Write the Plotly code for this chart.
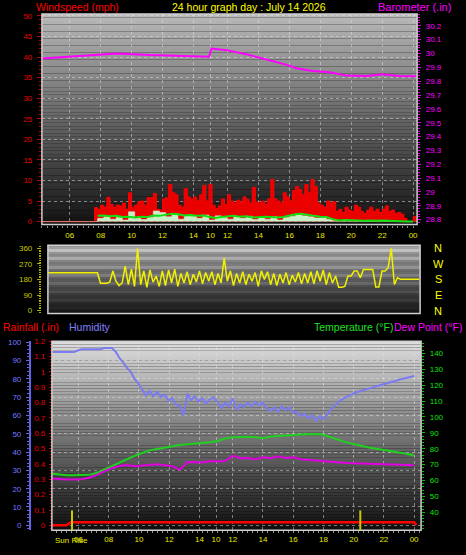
import numpy as np
import plotly.graph_objects as go

W, H = 466, 555
FONT = "Liberation Sans, Arial, sans-serif"

# ---------------- data ----------------
tick_hours = [1.8, 3.8, 5.8, 7.8, 9.8, 10.9, 12, 14, 16, 18, 20, 22, 24]
tick_labels = ['06', '08', '10', '12', '14', '10', '12', '14', '16', '18', '20', '22', '00']

gust_step = 0.2
wind_gust = [0, 0, 0, 0, 0, 0, 0, 0, 0, 0, 0, 0, 0, 0, 0, 0, 0,
             3.4, 3.0, 4.0, 3.5, 5.9, 4.2, 3.5, 4.0, 3.8, 4.5, 3.0, 7.0, 3.5, 4.0, 4.8, 5.0,
             4.0, 5.8, 5.8, 6.8, 3.0, 2.8, 5.5, 5.8, 9.0, 7.0, 6.5, 4.0, 3.5, 8.0, 6.0, 5.5,
             6.0, 5.0, 6.5, 8.8, 5.0, 9.0, 4.0, 3.2, 3.8, 5.5, 4.2, 6.5, 5.0, 4.5, 5.2, 4.8,
             6.0, 5.4, 4.5, 8.3, 4.8, 4.5, 5.0, 4.2, 5.5, 10.2, 5.5, 5.0, 4.5, 7.0, 6.0, 5.0,
             7.5, 8.5, 7.8, 6.5, 9.0, 7.0, 10.2, 8.5, 4.5, 4.0, 3.5, 5.0, 4.5, 4.8, 2.5, 3.0,
             2.2, 3.5, 2.8, 2.5, 4.0, 3.5, 2.5, 2.0, 2.8, 3.5, 2.5, 3.0, 2.2, 3.0, 3.8, 2.5,
             2.8, 2.0, 2.2, 1.8, 0.8, 0.0, 0.0, 1.2, 0.0]

avg_step = 0.4
wind_avg = [None, None, None, None, None, None, None, None, None,
            1.4, 1.5, 1.3, 1.4, 1.1, 1.2, 1.0, 1.2, 1.1, 1.5, 1.4, 1.7, 1.9, 1.8, 1.5, 1.6,
            1.4, 1.5, 1.2, 0.9, 1.1, 1.3, 1.4, 1.2, 1.3, 1.0, 1.1, 1.2, 1.1, 1.0, 1.1, 1.4,
            1.8, 1.9, 1.6, 1.4, 1.2, 1.1, 0.6, 0.3, 0.4, 0.3, 0.3, 0.2, 0.3, 0.2, 0.3, 0.2,
            0.2, 0.1, 0.0, 0.0]
wind_speed = [0, 0, 0, 0, 0, 0, 0, 0, 0,
              0.8, 1.2, 0.6, 1.0, 0.4, 2.4, 0.8, 0.5, 1.0, 2.6, 2.2, 1.2, 1.8, 0.6, 1.5, 1.3,
              0.8, 1.6, 0.4, 1.4, 1.0, 0.6, 1.2, 0.8, 1.3, 0.5, 0.9, 0.6, 1.2, 0.4, 1.0, 1.3,
              1.6, 1.4, 1.2, 0.9, 1.0, 0.6, 0.3, 0.0, 0.3, 0.0, 0.2, 0.0, 0.2, 0.0, 0.2, 0.0,
              0.0, 0.0, 0.0, 0.0]

baro_hours = [0.0, 2.0, 4.84, 6.97, 8.9, 10.8, 10.97, 11.94, 13.2, 14.5, 15.9, 16.45,
              17.5, 18.6, 19.7, 20.97, 22.0, 23.1, 24.2]
baro_inhg = [29.964, 29.98, 30.0, 29.988, 29.98, 29.976, 30.036, 30.024, 29.995, 29.957,
             29.916, 29.893, 29.874, 29.864, 29.84, 29.838, 29.85, 29.838, 29.836]

dir_step = 0.2
wind_dir = [219, 219, 219, 219, 219, 219, 219, 219, 219, 219, 219, 219, 219, 219, 219, 219, 219,
            158, 158, 158, 165, 229, 170, 145, 160, 257, 150, 240, 140, 360, 150, 230, 135,
            235, 165, 200, 140, 230, 145, 235, 160, 240, 140, 215, 160, 225, 150, 210, 165,
            230, 155, 220, 170, 225, 150, 215, 160, 305, 170, 230, 145, 215, 160, 225, 150,
            210, 170, 220, 140, 230, 180, 225, 150, 215, 145, 210, 160, 220, 150, 205, 165,
            220, 155, 215, 160, 225, 155, 230, 170, 235, 150, 220, 160, 200, 135, 135, 140,
            200, 200, 229, 229, 190, 238, 238, 238, 238, 137, 137, 229, 229, 248, 360, 152,
            190, 181, 181, 181, 181, 181, 181, 181]

hum_step = 0.25
humidity = [94.6, 94.6, 94.6, 94.6, 94.6, 94.6, 94.6, 95.5, 96.2, 96.2, 96.2, 96.2, 96.2,
            96.2, 96.8, 96.8, 96.8, 95.0, 91.5, 89.0, 86.0, 84.0, 80.0, 77.5, 74.5, 71.0,
            73.5, 70.5, 73.0, 70.0, 71.5, 68.0, 69.5, 66.0, 65.0, 60.0, 72.0, 68.5, 70.5,
            67.5, 69.5, 66.5, 69.0, 70.0, 67.0, 64.0, 67.0, 65.0, 69.5, 63.0, 66.0, 64.5,
            67.0, 65.0, 67.5, 65.5, 67.0, 64.0, 62.5, 64.5, 62.0, 65.0, 63.0, 64.5, 61.5,
            62.0, 59.5, 61.0, 58.5, 60.0, 57.0, 59.5, 58.0, 61.0, 63.5, 65.5, 67.5, 69.0,
            70.0, 71.0, 72.0, 72.8, 73.5, 74.0, 74.5, 75.2, 76.0, 76.5, 77.0, 77.6, 78.2,
            78.8, 79.5, 80.0, 80.6, 81.0, 81.6]

temp_step = 0.5
temperature = [64.4, 63.8, 63.4, 63.4, 63.4, 63.6, 64.8, 67.0, 69.2, 71.3, 73.5, 75.5, 77.3,
               79.0, 79.9, 80.8, 81.5, 82.4, 82.9, 83.2, 83.7, 84.1, 84.9, 86.4, 87.3, 87.5,
               87.6, 87.3, 86.6, 87.7, 88.1, 88.3, 88.6, 88.9, 89.1, 89.3, 88.8, 87.2, 85.5,
               84.0, 83.0, 81.8, 80.8, 80.0, 79.3, 78.6, 77.9, 76.8, 75.8]
dewpoint = [61.3, 60.9, 60.7, 60.7, 60.8, 61.8, 63.4, 65.8, 67.8, 69.2, 69.8, 69.0, 69.4,
            69.6, 70.3, 69.6, 69.0, 66.9, 71.5, 71.7, 71.4, 72.3, 72.0, 72.3, 75.6, 74.0,
            74.2, 73.4, 74.6, 74.0, 75.2, 74.2, 74.6, 73.4, 73.0, 72.5, 72.0, 71.7, 71.5,
            71.1, 70.9, 70.7, 70.6, 70.4, 70.2, 70.1, 70.0, 69.8, 69.6]

rain_hours = [0.0, 1.0, 1.3, 24.0, 24.15]
rainfall = [0.0, 0.0, 0.02, 0.02, 0.0]

sunrise_h = 1.37
sunset_h = 20.44


def hours(vals, step):
    return np.round(np.arange(len(vals)) * step, 3)


# ---------------- panel geometry (pixels) ----------------
def xdom(a, b):
    return [a / W, b / W]


def ydom(top, bot):
    return [1 - bot / H, 1 - top / H]


fig = go.Figure()

# top panel
fig.add_trace(go.Scatter(x=hours(wind_gust, gust_step), y=wind_gust, mode='lines',
                         line=dict(color='#ff0000', width=1, shape='hv'),
                         fill='tozeroy', fillcolor='rgba(235,0,0,1)', xaxis='x', yaxis='y'))
fig.add_trace(go.Scatter(x=hours(wind_speed, avg_step), y=wind_speed, mode='lines',
                         line=dict(color='#d8f8d8', width=0.5, shape='hv'),
                         fill='tozeroy', fillcolor='#c8f0c8', xaxis='x', yaxis='y'))
fig.add_trace(go.Scatter(x=hours(wind_avg, avg_step), y=wind_avg, mode='lines',
                         line=dict(color='#10e010', width=2), xaxis='x', yaxis='y'))
fig.add_trace(go.Scatter(x=baro_hours, y=baro_inhg, mode='lines',
                         line=dict(color='#ff00ff', width=2), xaxis='x', yaxis='y2'))

# middle panel
fig.add_trace(go.Scatter(x=hours(wind_dir, dir_step), y=wind_dir, mode='lines',
                         line=dict(color='#f0f000', width=1.5),
                         xaxis='x2', yaxis='y3'))

# bottom panel: y4 = humidity (base, free at far left), y5 = rain, y6 = temperature
fig.add_trace(go.Scatter(x=hours(humidity, hum_step), y=humidity, mode='lines',
                         line=dict(color='#7c7cf2', width=2), xaxis='x3', yaxis='y4'))
fig.add_trace(go.Scatter(x=hours(temperature, temp_step), y=temperature, mode='lines',
                         line=dict(color='#20d020', width=2), xaxis='x3', yaxis='y6'))
fig.add_trace(go.Scatter(x=hours(dewpoint, temp_step), y=dewpoint, mode='lines',
                         line=dict(color='#e000e0', width=2), xaxis='x3', yaxis='y6'))
fig.add_trace(go.Scatter(x=rain_hours, y=rainfall, mode='lines',
                         line=dict(color='#ff0000', width=2.5), xaxis='x3', yaxis='y5'))

grid = dict(showgrid=True, gridcolor='rgba(225,225,225,0.5)', griddash='dot', gridwidth=1)
tickfont = lambda c: dict(family=FONT, size=8, color=c)

xcommon = dict(tickmode='array', tickvals=tick_hours, ticktext=tick_labels,
               tickfont=tickfont('#e8e800'), zeroline=False, showline=False, ticks='',
               minor=dict(ticks='outside', dtick=1/3, tick0=0, ticklen=2, tickcolor='#909090',
                          showgrid=False))

fig.update_layout(
    width=W, height=H, margin=dict(l=0, r=0, t=0, b=0),
    paper_bgcolor='black', plot_bgcolor='rgba(0,0,0,0)', showlegend=False,
    xaxis=dict(domain=xdom(42, 418), range=[0, 376 / 15.5], anchor='y',
               ticklabelstandoff=4, **xcommon, **grid),
    yaxis=dict(domain=ydom(10, 223), range=[-3 / 4.16, 210 / 4.16], tick0=0, dtick=5,
               tickfont=tickfont('#e80000'), ticks='outside', ticklen=4, tickcolor='#c00000',
               minor=dict(ticks='outside', dtick=1, ticklen=2, tickcolor='#c00000', showgrid=False),
               zeroline=False, ticklabelstandoff=3, **grid),
    yaxis2=dict(overlaying='y', side='right', anchor='x', range=[28.8 - 5 / 140, 28.8 + 208 / 140],
                tick0=28.8, dtick=0.1, tickfont=tickfont('#ff00ff'), ticks='outside', ticklen=3,
                tickcolor='#e000e0',
                minor=dict(ticks='outside', dtick=0.02, ticklen=2, tickcolor='#e000e0'),
                showgrid=False, zeroline=False, ticklabelstandoff=3),
    xaxis2=dict(domain=xdom(48, 421), range=[0, 373 / 15.5], anchor='y3', showgrid=False,
                showticklabels=False, ticks='', zeroline=False),
    yaxis3=dict(domain=ydom(244, 313), range=[-3 / 0.175, 360 + 3 / 0.175], tick0=0, dtick=90,
                tickfont=tickfont('#c8c800'), ticks='outside', ticklen=4, tickcolor='#b0b000',
                minor=dict(ticks='outside', dtick=10, ticklen=2, tickcolor='#b0b000'),
                showgrid=False, zeroline=False, ticklabelstandoff=3),
    xaxis3=dict(domain=xdom(52, 422), range=[(52 - 51.4) / 15.15, (422 - 51.4) / 15.15],
                anchor='y4', ticklabelstandoff=3, **xcommon, **grid),
    yaxis4=dict(domain=ydom(341, 532), anchor='free', position=30 / W, side='left',
                range=[-2.7, 100.5], tick0=0, dtick=10, tickfont=tickfont('#7878ff'),
                showline=True, linecolor='#6464e6', linewidth=2,
                ticks='outside', ticklen=3, tickcolor='#6464e6',
                minor=dict(ticks='outside', dtick=2, ticklen=2, tickcolor='#6464e6'),
                zeroline=False, ticklabelstandoff=3, **grid),
    yaxis5=dict(overlaying='y4', anchor='free', position=52 / W, side='left',
                range=[-0.032, 1.2], tick0=0, dtick=0.1,
                tickfont=tickfont('#e80000'), ticks='outside', ticklen=3, tickcolor='#d00000',
                minor=dict(ticks='outside', dtick=0.02, ticklen=2, tickcolor='#d00000'),
                showline=False, showgrid=False, zeroline=False, ticklabelstandoff=2),
    yaxis6=dict(overlaying='y4', anchor='x3', side='right', range=[28.8, 147.5],
                tickmode='array', tickvals=list(range(40, 150, 10)),
                tickfont=tickfont('#10e010'), ticks='outside', ticklen=3, tickcolor='#10c010',
                minor=dict(ticks='outside', tickmode='linear', tick0=0, dtick=2, ticklen=2,
                           tickcolor='#10c010'),
                showgrid=False, zeroline=False, ticklabelstandoff=3),
)

# gradient backgrounds
shapes = []


def gradient(xr, yr, top, bot, n=60):
    for i in range(n):
        t = (i + 0.5) / n
        c = [int(round(bot[k] + (top[k] - bot[k]) * t)) for k in range(3)]
        shapes.append(dict(type='rect', xref=xr, yref=yr, x0=0, x1=1, y0=i / n, y1=(i + 1) / n,
                           fillcolor='rgb(%d,%d,%d)' % tuple(c), line=dict(width=0),
                           layer='below'))


gradient('x domain', 'y domain', (185, 185, 185), (18, 18, 18))
gradient('x2 domain', 'y3 domain', (205, 205, 205), (22, 22, 22))
gradient('x3 domain', 'y4 domain', (222, 222, 222), (14, 14, 14))

for xr, yr in [('x domain', 'y domain'), ('x2 domain', 'y3 domain'), ('x3 domain', 'y4 domain')]:
    shapes.append(dict(type='rect', xref=xr, yref=yr, x0=0, x1=1, y0=0, y1=1,
                       line=dict(color='#cfcfcf', width=1.5), fillcolor='rgba(0,0,0,0)',
                       layer='above'))

for h in [sunrise_h, sunset_h]:
    shapes.append(dict(type='line', xref='x3', yref='y4 domain', x0=h, x1=h, y0=0, y1=0.105,
                       line=dict(color='#c8c800', width=2), layer='above'))

fig.update_layout(shapes=shapes)

# text
ann = []


def text(s, x, y, color, size=10.5, xanchor='left', xref='paper', yref='paper'):
    ann.append(dict(text=s, x=x, y=y, xref=xref, yref=yref, xanchor=xanchor, yanchor='middle',
                    showarrow=False, font=dict(family=FONT, size=size, color=color)))


text('Windspeed (mph)', 34 / W, 1 - 3 / H, '#ff0000')
text('24 hour graph day : July 14 2026', 250 / W, 1 - 3 / H, '#ffff00', xanchor='center')
text('Barometer (.in)', 415 / W, 1 - 3 / H, '#ff00ff', size=11, xanchor='center')

for lab, v in zip(['N', 'W', 'S', 'E', 'N'], [360, 270, 180, 90, 0]):
    text(lab, 439 / W, v, '#ffff00', size=11, xanchor='center', yref='y3')

text('Rainfall (.in)', 1 / W, 1 - 327 / H, '#ff0000')
text('Humidity', 67 / W, 1 - 327 / H, '#8080ff')
text('Temperature (°F)', 313 / W, 1 - 327 / H, '#20e020')
text('Dew Point (°F)', 393 / W, 1 - 327 / H, '#ff00ff')

text('Sun Rise', sunrise_h, 1 - 542 / H, '#e8e800', size=8, xanchor='center', xref='x3')

fig.update_layout(annotations=ann)

fig.write_html('out.html', config={'displayModeBar': False},
               post_script="document.body.style.margin='0';document.body.style.overflow='hidden';")
